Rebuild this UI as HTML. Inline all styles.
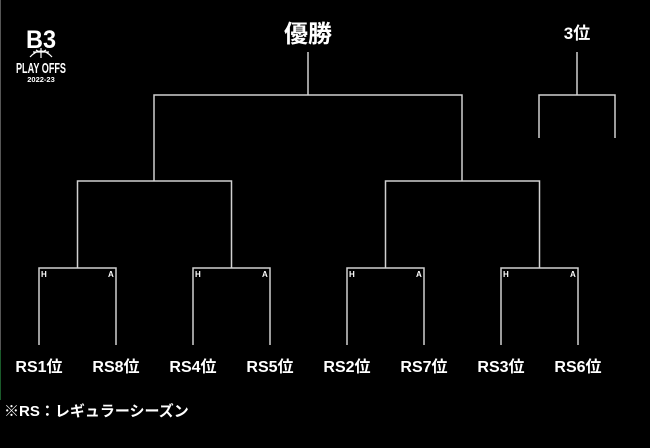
<!DOCTYPE html>
<html><head><meta charset="utf-8"><style>
html,body{margin:0;padding:0;background:#000;}
svg{display:block;}
text{font-family:"Liberation Sans","Noto Sans CJK JP",sans-serif;font-weight:bold;fill:#fff;}
</style></head><body>
<svg width="650" height="448" viewBox="0 0 650 448" xmlns="http://www.w3.org/2000/svg">
<rect width="650" height="448" fill="#000"/>
<line x1="0.5" y1="0" x2="0.5" y2="350" stroke="#555" stroke-width="1"/>
<line x1="0.5" y1="350" x2="0.5" y2="400" stroke="#1a5a2a" stroke-width="1"/>
<!-- logo -->
<text x="41" y="48" font-size="25" text-anchor="middle" textLength="30" lengthAdjust="spacingAndGlyphs">B3</text>
<path d="M30 57 Q41 45 52 57 M33 52 L49 52 M41 48 L41 58 M36 50 Q41 54 46 50" stroke="#fff" stroke-width="1.2" fill="none"/>
<text x="41" y="73" font-size="15" text-anchor="middle" textLength="50" lengthAdjust="spacingAndGlyphs">PLAY OFFS</text>
<text x="41" y="82" font-size="7.5" text-anchor="middle">2022-23</text>
<!-- titles -->
<text x="308" y="42" font-size="24" text-anchor="middle">優勝</text>
<text x="577" y="39" font-size="17" text-anchor="middle">3位</text>
<g stroke="#d0d0d0" stroke-width="1.5" fill="none">
<path d="M308 52 V95 M154 181 V95 H462 V181"/>
<path d="M577 52 V95 M539 138 V95 H615 V138"/>
<path d="M77.5 268 V181 H231.5 V268"/>
<path d="M385.5 268 V181 H539.5 V268"/>
<path d="M39 345 V268 H116 V345"/>
<path d="M193 345 V268 H270 V345"/>
<path d="M347 345 V268 H424 V345"/>
<path d="M501 345 V268 H578 V345"/>
</g>
<g font-size="8">
<text x="41" y="277">H</text><text x="108" y="277">A</text>
<text x="195" y="277">H</text><text x="262" y="277">A</text>
<text x="349" y="277">H</text><text x="416" y="277">A</text>
<text x="503" y="277">H</text><text x="570" y="277">A</text>
</g>
<g font-size="16" text-anchor="middle">
<text x="39" y="372">RS1位</text>
<text x="116" y="372">RS8位</text>
<text x="193" y="372">RS4位</text>
<text x="270" y="372">RS5位</text>
<text x="347" y="372">RS2位</text>
<text x="424" y="372">RS7位</text>
<text x="501" y="372">RS3位</text>
<text x="578" y="372">RS6位</text>
</g>
<text x="4" y="416" font-size="15">※RS：レギュラーシーズン</text>
</svg>
</body></html>
